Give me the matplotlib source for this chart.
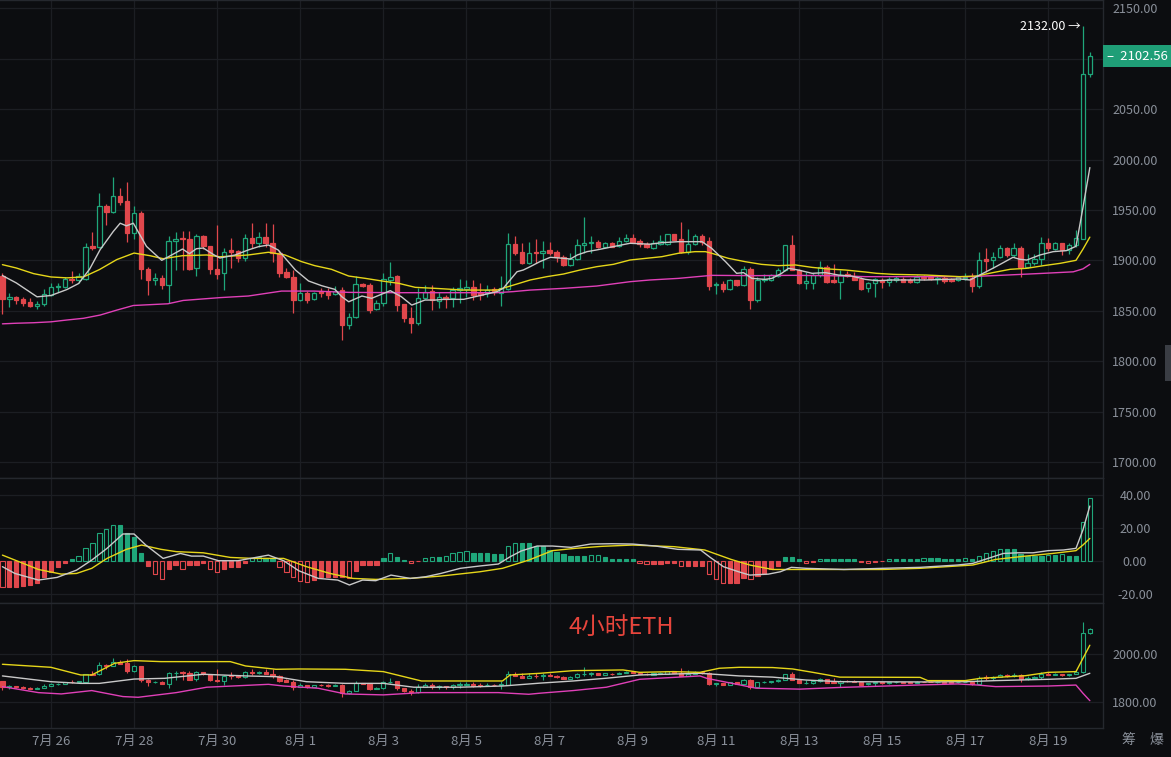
import matplotlib
matplotlib.use('Agg')
import matplotlib.pyplot as plt
import matplotlib.transforms as mtransforms
from matplotlib.patches import Rectangle
import numpy as np

plt.rcParams['font.family'] = ['Noto Sans CJK SC', 'DejaVu Sans']

# 4h candles, index 0 = 7/24 20:00, index 157 = 8/20 00:00
opens = [1884.9, 1861.8, 1863.5, 1861.2, 1858.2, 1854.6, 1856.6, 1866.1, 1873.7, 1873.7,
         1881.6, 1880.9, 1881.6, 1914.5, 1913.2, 1954.0, 1948.4, 1963.8, 1958.9, 1927.0,
         1946.7, 1891.8, 1880.3, 1882.9, 1875.3, 1918.7, 1922.0, 1921.0, 1892.4, 1924.0,
         1913.8, 1891.4, 1887.1, 1910.3, 1909.3, 1902.0, 1921.9, 1917.6, 1922.9, 1916.9,
         1907.6, 1888.4, 1883.1, 1860.6, 1867.2, 1861.3, 1869.6, 1868.9, 1866.2, 1870.5,
         1835.8, 1843.4, 1876.5, 1875.5, 1851.3, 1857.3, 1880.5, 1884.4, 1856.6, 1843.1,
         1838.1, 1862.3, 1869.9, 1860.0, 1863.3, 1862.3, 1870.5, 1871.2, 1873.8, 1867.2,
         1867.2, 1871.2, 1867.2, 1871.2, 1916.2, 1908.6, 1897.7, 1908.6, 1907.0, 1910.3,
         1908.3, 1903.0, 1895.4, 1901.0, 1915.2, 1916.9, 1918.5, 1912.9, 1916.9, 1914.2,
         1919.5, 1921.9, 1919.5, 1916.2, 1912.6, 1916.6, 1916.6, 1925.8, 1920.9, 1908.3,
         1916.0, 1923.8, 1918.9, 1875.2, 1876.8, 1871.2, 1880.1, 1875.2, 1891.7, 1860.3,
         1880.8, 1880.8, 1884.4, 1890.1, 1914.9, 1890.7, 1877.5, 1877.8, 1885.1, 1893.4,
         1880.1, 1878.5, 1886.1, 1884.1, 1881.8, 1872.2, 1877.2, 1880.5, 1878.8, 1880.5,
         1881.1, 1880.1, 1878.2, 1883.8, 1883.8, 1881.1, 1882.1, 1881.1, 1880.5, 1882.1,
         1882.1, 1874.8, 1901.0, 1900.3, 1903.0, 1911.9, 1905.3, 1911.9, 1893.1, 1897.0,
         1901.0, 1916.9, 1911.2, 1916.9, 1910.3, 1915.2, 1921.5, 2084.7]
highs = [1887.0, 1867.8, 1865.1, 1863.5, 1862.8, 1859.5, 1871.7, 1877.6, 1877.6, 1883.5,
         1889.0, 1887.5, 1917.1, 1928.0, 1966.5, 1955.6, 1982.2, 1971.4, 1977.3, 1954.3,
         1949.3, 1893.0, 1887.5, 1885.2, 1923.7, 1928.0, 1929.3, 1928.6, 1926.0, 1924.7,
         1913.8, 1935.0, 1912.6, 1921.9, 1910.3, 1925.8, 1936.8, 1928.5, 1936.8, 1936.1,
         1910.3, 1892.7, 1890.4, 1877.2, 1869.9, 1868.9, 1872.2, 1872.2, 1874.5, 1873.2,
         1847.4, 1884.4, 1877.2, 1877.2, 1860.6, 1887.1, 1898.7, 1885.4, 1857.0, 1854.0,
         1872.2, 1875.5, 1875.5, 1868.9, 1865.6, 1873.8, 1881.5, 1880.5, 1880.5, 1877.2,
         1875.5, 1873.2, 1884.4, 1927.5, 1924.2, 1917.6, 1917.9, 1920.9, 1919.2, 1917.9,
         1910.3, 1905.3, 1907.6, 1920.9, 1943.4, 1924.2, 1920.2, 1918.5, 1918.5, 1922.9,
         1925.8, 1925.8, 1920.9, 1918.5, 1919.9, 1924.8, 1926.5, 1926.2, 1938.0, 1931.4,
         1926.5, 1926.5, 1923.2, 1878.5, 1879.5, 1881.8, 1880.8, 1894.4, 1893.4, 1883.5,
         1886.8, 1886.8, 1892.4, 1915.5, 1924.8, 1891.7, 1888.4, 1887.4, 1899.3, 1895.7,
         1896.7, 1890.1, 1889.4, 1888.4, 1883.5, 1878.8, 1882.1, 1882.1, 1883.8, 1884.4,
         1883.1, 1882.1, 1885.4, 1885.4, 1884.4, 1884.4, 1884.4, 1882.1, 1884.4, 1887.1,
         1887.1, 1907.9, 1911.9, 1908.6, 1915.2, 1913.6, 1917.5, 1914.2, 1906.0, 1906.0,
         1922.8, 1921.9, 1918.5, 1916.9, 1916.9, 1929.8, 2132.0, 2106.2]
lows = [1846.4, 1853.9, 1856.6, 1854.6, 1854.0, 1851.3, 1855.0, 1864.5, 1869.0, 1873.0,
        1877.6, 1877.6, 1880.0, 1910.5, 1912.0, 1935.0, 1947.4, 1955.0, 1917.8, 1921.4,
        1881.6, 1865.4, 1876.0, 1872.0, 1857.9, 1890.8, 1890.8, 1890.8, 1884.2, 1911.5,
        1886.8, 1881.0, 1870.5, 1892.7, 1898.7, 1899.7, 1911.9, 1913.6, 1913.6, 1898.7,
        1883.1, 1882.5, 1847.4, 1860.0, 1857.3, 1860.6, 1863.9, 1861.6, 1865.8, 1820.9,
        1831.8, 1843.0, 1873.2, 1848.0, 1850.7, 1854.6, 1875.5, 1850.0, 1839.1, 1827.5,
        1835.8, 1861.6, 1850.7, 1852.3, 1852.3, 1853.3, 1858.0, 1863.9, 1860.6, 1860.6,
        1863.9, 1865.6, 1854.6, 1871.0, 1905.3, 1896.4, 1896.4, 1897.0, 1892.1, 1905.3,
        1898.0, 1894.7, 1894.4, 1900.3, 1907.0, 1907.6, 1911.9, 1911.9, 1912.9, 1913.6,
        1918.5, 1917.3, 1913.6, 1911.9, 1911.6, 1914.9, 1914.9, 1919.9, 1907.6, 1906.0,
        1914.9, 1914.9, 1870.2, 1866.2, 1868.6, 1870.2, 1874.5, 1874.2, 1852.0, 1858.6,
        1878.5, 1879.5, 1883.5, 1889.4, 1890.1, 1876.8, 1871.9, 1871.9, 1883.5, 1877.5,
        1877.8, 1861.9, 1883.5, 1880.1, 1870.6, 1868.9, 1863.3, 1872.9, 1874.5, 1878.8,
        1878.2, 1877.2, 1877.2, 1880.5, 1880.5, 1876.5, 1877.8, 1878.2, 1879.5, 1880.5,
        1868.9, 1872.2, 1888.7, 1892.1, 1902.0, 1903.6, 1903.6, 1883.8, 1892.1, 1895.4,
        1895.4, 1909.6, 1910.3, 1905.3, 1906.0, 1913.6, 1921.0, 2081.4]
closes = [1861.2, 1863.5, 1860.8, 1857.5, 1854.3, 1856.9, 1866.8, 1873.7, 1875.0, 1881.6,
          1880.3, 1884.9, 1913.2, 1912.5, 1954.0, 1948.4, 1963.8, 1958.2, 1927.0, 1946.7,
          1891.8, 1880.3, 1882.9, 1875.3, 1919.4, 1921.0, 1920.7, 1891.4, 1924.0, 1913.8,
          1891.4, 1886.4, 1908.6, 1908.6, 1902.0, 1921.9, 1917.6, 1922.9, 1916.9, 1907.6,
          1887.8, 1883.1, 1860.6, 1867.2, 1860.6, 1867.9, 1867.9, 1865.6, 1869.6, 1835.8,
          1843.4, 1876.2, 1874.5, 1850.7, 1857.3, 1881.5, 1883.8, 1855.6, 1842.4, 1838.1,
          1862.3, 1868.9, 1860.6, 1863.3, 1861.3, 1870.5, 1872.2, 1873.8, 1865.6, 1865.6,
          1870.5, 1868.9, 1872.2, 1916.2, 1907.6, 1897.7, 1907.6, 1907.0, 1909.6, 1907.6,
          1903.0, 1895.4, 1901.0, 1915.2, 1916.9, 1918.5, 1912.9, 1917.6, 1913.6, 1919.5,
          1921.9, 1917.9, 1916.2, 1913.6, 1917.5, 1918.9, 1925.8, 1920.5, 1908.3, 1916.6,
          1923.8, 1918.2, 1874.5, 1876.8, 1871.2, 1880.1, 1875.2, 1891.7, 1860.3, 1880.8,
          1881.8, 1885.1, 1890.1, 1914.9, 1890.7, 1877.5, 1879.1, 1885.1, 1893.4, 1878.5,
          1878.5, 1885.1, 1884.1, 1880.8, 1871.2, 1877.2, 1881.1, 1878.8, 1881.1, 1882.8,
          1878.8, 1878.2, 1883.8, 1882.1, 1881.1, 1882.1, 1879.5, 1879.5, 1883.1, 1883.8,
          1874.5, 1900.3, 1899.7, 1903.0, 1911.9, 1905.3, 1911.9, 1893.1, 1897.0, 1901.0,
          1916.9, 1911.9, 1916.9, 1910.3, 1915.2, 1921.9, 2084.7, 2102.56]

# moving averages on the price panel, (candle index, value)
ma_fast = [(0, 1884.9), (2, 1877.6), (5, 1863.8), (7, 1865.1), (9.3, 1871), (11, 1877), (12.6, 1891.4),
           (14.1, 1910.5), (16, 1928.6), (17, 1936.8), (17.9, 1934.2), (18.9, 1936.8), (20.8, 1913.8),
           (23, 1900), (23.9, 1903.3), (26, 1911.2), (27, 1906.6), (28, 1911.5), (29, 1912.2),
           (30.5, 1905.6), (31.4, 1902.3), (33.6, 1905.3), (35.5, 1910.3), (37, 1913.6), (38.4, 1915.2),
           (39.8, 1910.3), (42.3, 1890.4), (44.2, 1879.5), (46.1, 1874.8), (48, 1871.2), (49, 1863.9),
           (50, 1858.9), (51.9, 1864.6), (53.3, 1862.3), (56, 1869.9), (57.6, 1863.9), (59.1, 1855.6),
           (61, 1860.6), (62.5, 1860.6), (63.7, 1861.3), (66.6, 1861.3), (71.4, 1868.9), (72.3, 1872.2),
           (73.3, 1880.5), (74.3, 1888.7), (75.2, 1890.4), (76.2, 1893.7), (77.6, 1898.7), (79.1, 1903),
           (81, 1902), (82, 1901.3), (83, 1905.3), (84.4, 1908.6), (85.8, 1910.3), (88.2, 1913.6),
           (90.6, 1916.9), (93.5, 1916), (95.2, 1917.5), (97.6, 1918.5), (101, 1918.5), (102.4, 1911.9),
           (104.4, 1898.7), (106, 1887.1), (107, 1887.8), (108.2, 1882.1), (110.1, 1881.1), (111.1, 1882.1),
           (112.5, 1887.1), (113.5, 1892.1), (114.9, 1890.4), (116.9, 1887.1), (118.8, 1887.8),
           (120.7, 1885.4), (122.6, 1884.4), (124.6, 1881.1), (126.2, 1879.8), (128.6, 1880.5),
           (133.4, 1880.5), (138.2, 1881.5), (139.7, 1880.5), (141.1, 1885.4), (143, 1892.1),
           (144.5, 1897.7), (145.9, 1903), (146.9, 1901), (147.9, 1900.3), (149.8, 1905.3),
           (151.7, 1908.6), (153.6, 1909.6), (155, 1913.9), (156, 1952), (157, 1992)]
ma_mid = [(0, 1895.7), (2, 1892.4), (4.5, 1886.8), (7, 1883.5), (9.3, 1882.6), (11.7, 1883.5), (14, 1890.8),
          (16.5, 1900.7), (19, 1907.2), (21.3, 1904.6), (23.2, 1901.6), (26, 1904.6), (29.5, 1905.3),
          (31.4, 1903.5), (35.5, 1905.3), (38.4, 1908), (40.8, 1905.3), (43.2, 1898.7), (45.1, 1894.7),
          (47.5, 1891.1), (50, 1884.4), (52.4, 1882.1), (54.8, 1879.5), (57.2, 1877.2), (59.6, 1873.2),
          (62.5, 1872.2), (66.6, 1870.5), (71.4, 1870.5), (73.8, 1875.5), (76.2, 1880.5), (78.6, 1883.8),
          (81, 1886.4), (83.4, 1890.4), (85.8, 1893.7), (88.2, 1896), (90.6, 1900.3), (93.5, 1902.4),
          (95.2, 1903.6), (97.6, 1907), (100, 1908.6), (101.5, 1908.6), (102.4, 1907), (104.8, 1902),
          (107.2, 1898.7), (109.6, 1896), (112, 1894.7), (114.5, 1895.4), (116.9, 1893), (119.3, 1891.4),
          (121.7, 1890.4), (124.6, 1888.4), (126.2, 1887.1), (128.6, 1886.1), (133.4, 1885.4),
          (138.2, 1883.8), (140.6, 1884.4), (143, 1887.8), (145.5, 1891.1), (147.9, 1892.1),
          (150.3, 1894.7), (152.7, 1897), (155, 1900), (156, 1911), (157, 1923)]
ma_slow = [(0, 1837), (2, 1837.6), (4.5, 1838.1), (7, 1839), (9.3, 1840.8), (11.7, 1842.5), (14.1, 1845.7),
           (16.5, 1850.6), (18.9, 1855.2), (23.9, 1856.9), (26.1, 1860.2), (31.4, 1863), (35.5, 1864.6),
           (40.3, 1869.5), (45, 1869.5), (50, 1868.2), (57.2, 1867.9), (62.5, 1867.9), (71.4, 1867.9),
           (73.8, 1869), (76.2, 1870.5), (81, 1872.2), (85.8, 1874.5), (90.6, 1878.8), (93.5, 1880.5),
           (97.6, 1882.1), (102.4, 1885.1), (108.7, 1884.8), (114, 1885.1), (119.3, 1884.8),
           (124.6, 1883.8), (139.7, 1883.8), (145, 1885.4), (150.3, 1887.1), (154.6, 1888.6),
           (156, 1891.5), (157, 1896)]

# MACD panel
macd_hist = [-16, -16, -16, -15.5, -14.5, -13.5, -10, -6.7, -3.6, -1.2,
             0.8, 2.8, 7.5, 10.9, 16.6, 19, 21.6, 21.6, 16.6, 14.5,
             4.8, -3, -8, -11.3, -5.3, -2.6, -5.3, -2.6, -2.6, -1.2,
             -5.3, -6.7, -5.3, -4, -4, -1.2, 1.4, 2, 1.4, 1.4,
             -3.6, -6.7, -10.1, -12.1, -12.7, -11.7, -10.1, -10.1, -10.1, -10.1,
             -10.7, -6, -2.6, -2.6, -2.6, 1.4, 4.4, 2.4, 0.4, -1.6,
             -0.4, 1.4, 2, 2, 2.8, 4.4, 5.5, 5.9, 4.4, 4.4,
             4.4, 4, 4, 8.9, 10.9, 10.9, 10.5, 8.9, 8.9, 6.5,
             5.5, 4, 2.8, 2.8, 2.8, 3.2, 3.4, 2, 0.8, 0.8,
             0.8, 0.8, -1.2, -2, -2, -2, -1.6, -1.6, -3.2, -3.2,
             -3.2, -3.2, -8.1, -11.3, -13.7, -13.3, -13.3, -10.7, -11.3, -9.3,
             -8.1, -5.3, -3.2, 2, 2, 0.8, -1.2, -0.6, 0.8, 0.8,
             0.8, 0.8, 0.8, 0.8, -0.6, -1.2, -0.6, -0.3, 0.8, 0.8,
             0.8, 0.8, 0.8, 1.4, 1.4, 1.4, 0.8, 0.8, 0.8, 1.4,
             0.8, 2.8, 4.4, 6.1, 6.9, 6.9, 6.9, 4, 2.8, 2.8,
             2.8, 3.4, 3.4, 4, 2.8, 2.8, 23.6, 37.8]
macd_dif = [(0, -3.6), (1.8, -7.7), (5.2, -11.7), (7.9, -10.1), (10.7, -5.7), (12.9, 0.4), (15.1, 7.5),
            (17.4, 16.2), (19, 16.2), (20.7, 9.5), (23.2, 1.4), (25.7, 4.4), (27.3, 2.8), (29, 2.8),
            (31.2, 0), (34, 0), (38.4, 3.4), (40.6, 0), (42.8, -6.1), (45.6, -10.7), (48.4, -11.7),
            (50.1, -14.7), (52, -11.7), (53.9, -12.1), (56.1, -8.7), (58.9, -10.7), (61.1, -9.7),
            (63.3, -7.7), (66.1, -4.6), (68.9, -3.2), (71.6, -2), (73.3, 2.4), (74.9, 5.9), (77.2, 8.9),
            (79.4, 8.9), (82.1, 8.1), (84.9, 10.1), (88, 10.3), (91, 10.1), (94.3, 8.9), (97.5, 6.9),
            (100.8, 6.5), (102.2, 2), (104.1, -3.6), (106.3, -6.7), (107.9, -8.7), (110.6, -8.1),
            (112.3, -6.7), (113.9, -4), (116.1, -4.6), (121.5, -5.3), (127, -4.6), (132.5, -4),
            (137.9, -2.6), (140.1, -1.6), (142.3, 1.4), (144.5, 4.4), (146.6, 4.8), (148.8, 4.8),
            (151, 6.1), (153.2, 6.5), (155, 7.5), (156, 18.6), (157, 33.1)]
macd_dea = [(0, 3.4), (2.4, -0.6), (5.2, -5.3), (8.5, -8.1), (10.7, -7.7), (12.9, -4.6), (15.1, 1.4),
            (17.9, 6.9), (20.1, 9.5), (22.9, 6.9), (25.1, 5.5), (29, 4.8), (32.9, 2), (36.2, 1.4),
            (40.6, 1.4), (43.9, -3.6), (47.3, -7.7), (50.6, -10.7), (53.9, -11.3), (58.9, -10.7),
            (63.3, -9.3), (68.9, -6.7), (72.2, -4.6), (76, 0.4), (79.4, 6.1), (82.7, 7.5), (86.5, 8.7),
            (91, 9.5), (97, 8.5), (101.4, 6.5), (105.2, 0.8), (107.9, -2.6), (111.2, -5.3), (116.1, -5.3),
            (127, -5.3), (132.5, -4.6), (140.1, -2.6), (143.4, 0.8), (147.7, 2.8), (151.6, 4.4),
            (155, 6.1), (156, 9.5), (157, 13.5)]

# lower panel bands
band_up = [(0, 1955.6), (7, 1943), (11.3, 1911), (12.9, 1911), (16.2, 1959.7), (19, 1970.8), (22.9, 1966.7),
           (32.9, 1966.7), (35.1, 1948.6), (39.5, 1934.7), (42.8, 1936), (49.5, 1934.7), (55, 1925),
           (60.5, 1886), (66, 1886), (72.2, 1886), (73.3, 1911), (77.6, 1918), (82.4, 1929), (89.6, 1932),
           (92, 1922), (96.8, 1925), (100.7, 1922), (103.5, 1939), (106.4, 1943), (111.2, 1942),
           (114.1, 1936), (117, 1922), (120.9, 1902), (132.5, 1901), (133.6, 1887.5), (139, 1887.5),
           (141.2, 1897), (147.7, 1908), (151, 1922), (155, 1925), (156, 1980), (157, 2035)]
band_mid = [(0, 1907), (7, 1883), (11.3, 1876), (14, 1876), (19, 1894), (23.4, 1897), (29, 1914),
            (35.1, 1907), (39.5, 1904), (43.9, 1883), (49.5, 1876), (55, 1876), (59.4, 1860), (66, 1860),
            (72.2, 1865), (77.6, 1877), (82.4, 1886), (87.2, 1897.5), (92, 1911), (100.7, 1918),
            (106.4, 1907), (111.2, 1902), (116, 1890), (120.9, 1883), (132.5, 1882), (139, 1883),
            (143.4, 1887.5), (151, 1893), (155, 1897), (157, 1918)]
band_low = [(0, 1862.5), (5.2, 1837.5), (8.5, 1832), (12.9, 1846), (17.4, 1821), (19.6, 1818), (25.1, 1837.5),
            (29.5, 1860), (38.4, 1872), (40.6, 1865), (45.6, 1855.6), (49.5, 1832), (55, 1828),
            (60.5, 1837.5), (71.6, 1837.5), (76, 1830.6), (77.6, 1835), (82.4, 1846), (87.2, 1860),
            (92, 1893), (100.7, 1907), (101.7, 1897), (106.4, 1870), (108.8, 1856), (115.1, 1852),
            (120.9, 1859), (132.5, 1869.4), (137.9, 1873.6), (140.6, 1869.4), (143.4, 1862.5),
            (151, 1865), (155, 1869), (156, 1835), (157, 1804)]

date_pos = [7, 19, 31, 43, 55, 67, 79, 91, 103, 115, 127, 139, 151]
date_labels = ['7月 26', '7月 28', '7月 30', '8月 1', '8月 3', '8月 5', '8月 7',
               '8月 9', '8月 11', '8月 13', '8月 15', '8月 17', '8月 19']

BG = '#0c0d10'
GRID = '#1c1e23'
SEP = '#25282e'
TXT = '#8a909a'
GREEN = '#1fa67a'
RED = '#e0474c'
C_FAST = '#c9c9c9'
C_MID = '#e6d619'
C_SLOW = '#e040b8'

n = min(len(opens), len(highs), len(lows), len(closes))
xlim = (-0.35, 158.9)
last_price = closes[n - 1]

fig = plt.figure(figsize=(11.71, 7.57), dpi=100, facecolor=BG)
W = 1103 / 1171
ax = fig.add_axes([0, 1 - 478 / 757, W, 478 / 757])
ax2 = fig.add_axes([0, 1 - 603 / 757, W, 125 / 757])
ax3 = fig.add_axes([0, 1 - 728 / 757, W, 125 / 757])


def style(a, yticks, ylabels, ylim):
    a.set_facecolor(BG)
    a.set_xlim(*xlim)
    a.set_ylim(*ylim)
    a.set_xticks(date_pos)
    a.set_yticks(yticks)
    a.set_yticklabels(ylabels)
    a.yaxis.tick_right()
    a.tick_params(axis='y', length=0, pad=23, labelsize=9, colors=TXT)
    for lb in a.get_yticklabels():
        lb.set_horizontalalignment('center')
    a.tick_params(axis='x', length=0, labelbottom=False)
    a.grid(True, color=GRID, lw=0.9)
    a.set_axisbelow(True)
    a.spines['left'].set_visible(False)
    for s in ['top', 'bottom', 'right']:
        a.spines[s].set_color(SEP)
        a.spines[s].set_linewidth(1.0)


def candles(a, width, lw):
    for i in range(n):
        o, h, l, c = opens[i], highs[i], lows[i], closes[i]
        up = c >= o
        col = GREEN if up else RED
        a.vlines(i, l, h, color=col, lw=lw, zorder=2)
        body = max(abs(c - o), 0.6)
        a.add_patch(Rectangle((i - width / 2, min(o, c)), width, body,
                              facecolor=BG if up else col, edgecolor=col, lw=lw, zorder=3))


def line(a, pts, color, lw=1.0):
    p = np.array(pts)
    a.plot(p[:, 0], p[:, 1], color=color, lw=lw, zorder=4, solid_capstyle='round')


# price panel (the 2100 label sits under the last-price tag)
price_ticks = list(range(1700, 2151, 50))
price_labels = ['' if v == 2100 else '%.2f' % v for v in price_ticks]
style(ax, price_ticks, price_labels, (1684.1, 2158.2))
candles(ax, 0.64, 0.9)
line(ax, ma_slow, C_SLOW)
line(ax, ma_mid, C_MID)
line(ax, ma_fast, C_FAST)
ax.text(155.7, max(highs), '%.2f →' % max(highs), color='white', fontsize=9, fontweight='medium',
        ha='right', va='center')
tr = mtransforms.blended_transform_factory(ax.transAxes, ax.transData)
ax.text(1.004, last_price, '–  %.2f' % last_price, transform=tr, color='white', fontsize=9.5,
        fontweight='medium', ha='left', va='center',
        bbox=dict(boxstyle='square,pad=0.32', fc='#1f9e77', ec='none'), clip_on=False, zorder=10)

# MACD panel
style(ax2, [-20, 0, 20, 40], ['-20.00', '0.00', '20.00', '40.00'], (-25.6, 50.1))
prev = 0.0
for i, h in enumerate(macd_hist):
    col = GREEN if h >= 0 else RED
    hollow = abs(h) > abs(prev)
    ax2.bar(i, h, width=0.62, facecolor=BG if hollow else col, edgecolor=col, lw=0.8, zorder=3)
    prev = h
line(ax2, macd_dea, C_MID)
line(ax2, macd_dif, C_FAST)

# lower panel
style(ax3, [1800, 2000], ['1800.00', '2000.00'], (1690, 2211))
candles(ax3, 0.6, 0.8)
line(ax3, band_low, C_SLOW)
line(ax3, band_mid, C_FAST)
line(ax3, band_up, C_MID)
ax3.tick_params(axis='x', labelbottom=True, labelsize=9.5, colors=TXT, pad=5)
ax3.set_xticklabels(date_labels)

fig.text(621 / 1171, 1 - 627 / 757, '4小时ETH', color='#e8453c', fontsize=17, ha='center', va='center')
fig.text(1128 / 1171, 1 - 740 / 757, '筹', color=TXT, fontsize=10, ha='center', va='center')
fig.text(1156 / 1171, 1 - 740 / 757, '爆', color=TXT, fontsize=10, ha='center', va='center')
fig.patches.append(Rectangle((1165 / 1171, 1 - 381 / 757), 8 / 1171, 36 / 757, transform=fig.transFigure,
                             facecolor='#3a3d44', edgecolor='none'))

fig.savefig('out.png', dpi=100, facecolor=BG)
